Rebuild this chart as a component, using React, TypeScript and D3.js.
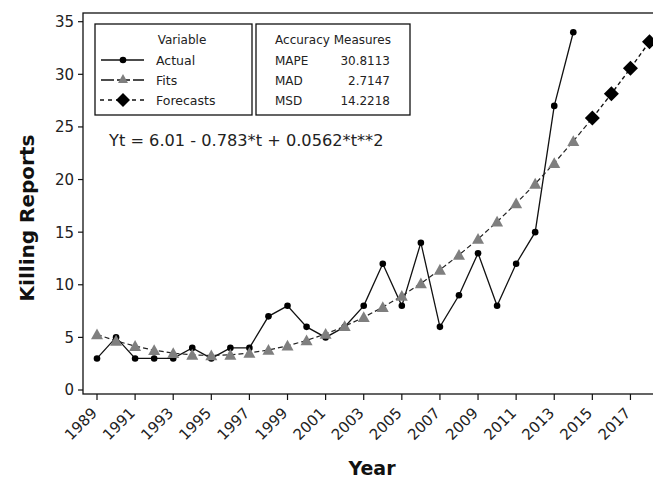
import React from "react";
import * as d3 from "d3";

const years = [1989,1990,1991,1992,1993,1994,1995,1996,1997,1998,1999,2000,2001,2002,2003,2004,2005,2006,2007,2008,2009,2010,2011,2012,2013,2014];
const actual = [3,5,3,3,3,4,3,4,4,7,8,6,5,6,8,12,8,14,6,9,13,8,12,15,27,34];
const fits = [5.28,4.67,4.17,3.78,3.50,3.34,3.28,3.34,3.52,3.80,4.20,4.71,5.33,6.06,6.91,7.87,8.94,10.13,11.42,12.83,14.35,15.99,17.73,19.59,21.56,23.64];
const forecastYears = [2015,2016,2017,2018];
const forecasts = [25.84,28.15,30.57,33.10];
const xTickYears = [1989,1991,1993,1995,1997,1999,2001,2003,2005,2007,2009,2011,2013,2015,2017];
const yTicks = [0,5,10,15,20,25,30,35];
const accuracyNames = ["MAPE","MAD","MSD"];
const accuracyValues = ["30.8113","2.7147","14.2218"];
const legendNames = ["Actual","Fits","Forecasts"];
const equation = "Yt = 6.01 - 0.783*t + 0.0562*t**2";

const W = 653, H = 479;
const FONT = "'DejaVu Sans', Verdana, sans-serif";

export default function App() {
  const x = d3.scaleLinear().domain([1989, 2018]).range([97, 649.5]);
  const y = d3.scaleLinear().domain([0, 35]).range([390, 21.7]);
  const left = 83, top = 13, bottom = 394;

  const line = d3.line<[number, number]>().x(d => x(d[0])).y(d => y(d[1]));
  const actualPts: [number, number][] = years.map((yr, i) => [yr, actual[i]]);
  const fitPts: [number, number][] = years.map((yr, i) => [yr, fits[i]]);
  const fcPts: [number, number][] = forecastYears.map((yr, i) => [yr, forecasts[i]]);
  const bridge: [number, number][] = [fitPts[fitPts.length - 1], fcPts[0]];

  const tri = (cx: number, cy: number, s = 6) =>
    `M${cx},${cy - s}L${cx + s},${cy + s * 0.8}L${cx - s},${cy + s * 0.8}Z`;
  const dia = (cx: number, cy: number, s = 7.5) =>
    `M${cx},${cy - s}L${cx + s},${cy}L${cx},${cy + s}L${cx - s},${cy}Z`;

  const legRows = [60, 80, 100];

  return (
    <svg width={W} height={H} style={{ position: "absolute", left: 0, top: 0, background: "#fff" }} fontFamily={FONT}>
      {/* frame */}
      <rect x={left} y={top} width={W + 10 - left} height={bottom - top} fill="none" stroke="#111" strokeWidth={1.3} />

      {/* y ticks */}
      {yTicks.map(v => (
        <g key={v}>
          <line x1={left} x2={left - 5} y1={y(v)} y2={y(v)} stroke="#111" strokeWidth={1.2} />
          <text x={74} y={y(v)} dy="0.36em" textAnchor="end" fontSize={15} fill="#222">{v}</text>
        </g>
      ))}

      {/* x ticks */}
      {xTickYears.map(v => (
        <g key={v}>
          <line x1={x(v)} x2={x(v)} y1={bottom} y2={bottom + 6} stroke="#111" strokeWidth={1.2} />
          <text transform={`translate(${x(v) + 1},${bottom + 20}) rotate(-45)`} textAnchor="end" fontSize={15} fill="#222">{v}</text>
        </g>
      ))}

      {/* axis titles */}
      <text x={372} y={475} textAnchor="middle" fontSize={19} fontWeight="bold" fill="#111">Year</text>
      <text transform={`translate(34,218) rotate(-90)`} textAnchor="middle" fontSize={20} fontWeight="bold" fill="#111">Killing Reports</text>

      {/* actual */}
      <path d={line(actualPts) || ""} fill="none" stroke="#111" strokeWidth={1.3} />
      {actualPts.map((p, i) => (
        <circle key={i} cx={x(p[0])} cy={y(p[1])} r={3.3} fill="#000" />
      ))}

      {/* fits */}
      <path d={line(fitPts) || ""} fill="none" stroke="#222" strokeWidth={1.2} strokeDasharray="5,3" />
      <path d={line(bridge) || ""} fill="none" stroke="#222" strokeWidth={1.2} strokeDasharray="5,3" />
      {fitPts.map((p, i) => (
        <path key={i} d={tri(x(p[0]), y(p[1]))} fill="#7f7f7f" />
      ))}

      {/* forecasts */}
      <path d={line(fcPts) || ""} fill="none" stroke="#111" strokeWidth={1.4} strokeDasharray="4,3" />
      {fcPts.map((p, i) => (
        <path key={i} d={dia(x(p[0]), y(p[1]))} fill="#000" />
      ))}

      {/* legend box 1 */}
      <rect x={95} y={24} width={157} height={91} fill="#fff" stroke="#111" strokeWidth={1.3} />
      <text x={182} y={44} textAnchor="middle" fontSize={12} fill="#222">Variable</text>
      {legendNames.map((n, i) => (
        <text key={n} x={156} y={legRows[i] + 4.5} fontSize={12.5} fill="#222">{n}</text>
      ))}
      <line x1={101} x2={144} y1={legRows[0]} y2={legRows[0]} stroke="#111" strokeWidth={1.3} />
      <circle cx={123} cy={legRows[0]} r={3.3} fill="#000" />
      <line x1={101} x2={144} y1={legRows[1]} y2={legRows[1]} stroke="#111" strokeWidth={1.3} strokeDasharray="13,3" />
      <path d={tri(123, legRows[1] - 1, 5)} fill="#7f7f7f" />
      <line x1={100} x2={145} y1={legRows[2]} y2={legRows[2]} stroke="#111" strokeWidth={1.3} strokeDasharray="4,4" />
      <path d={dia(123, legRows[2], 7)} fill="#000" />

      {/* legend box 2 */}
      <rect x={256} y={24} width={154} height={91} fill="#fff" stroke="#111" strokeWidth={1.3} />
      <text x={333} y={44} textAnchor="middle" fontSize={12} fill="#222">Accuracy Measures</text>
      {accuracyNames.map((n, i) => (
        <g key={n}>
          <text x={275} y={legRows[i] + 4.5} fontSize={12} fill="#222">{n}</text>
          <text x={390} y={legRows[i] + 4.5} textAnchor="end" fontSize={12} fill="#222">{accuracyValues[i]}</text>
        </g>
      ))}

      {/* equation */}
      <text x={109} y={146} fontSize={16.2} fill="#222">{equation}</text>
    </svg>
  );
}
